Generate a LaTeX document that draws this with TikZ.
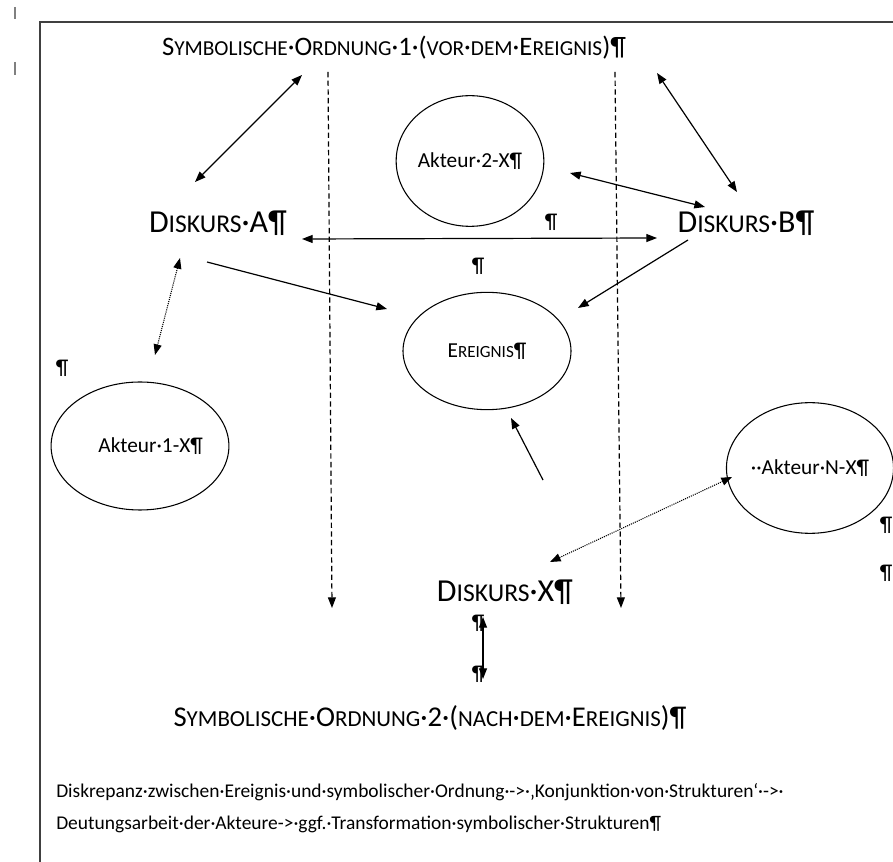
\documentclass[tikz,border=0pt]{standalone}
\usepackage{fontspec}
\setmainfont{Carlito}
\usepackage{graphicx}
\usetikzlibrary{arrows.meta,calc,shapes.geometric}

\newcommand{\kap}[1]{\scalebox{0.8}{#1}}

\tikzset{
  tip/.style={line width=0.9pt},
  pfeil/.style={tip, -{Triangle[length=8pt,width=6pt]}},
  doppel/.style={tip, {Triangle[length=8pt,width=6pt]}-{Triangle[length=8pt,width=6pt]}},
  punkte/.style={line width=0.8pt, dash pattern=on 0.8pt off 0.8pt, {Triangle[length=8pt,width=6pt]}-{Triangle[length=8pt,width=6pt]}},
  strich/.style={line width=0.9pt, dash pattern=on 4pt off 2.5pt, -{Triangle[length=8pt,width=6pt]}},
  kreis/.style={draw, ellipse, line width=0.8pt, inner sep=0pt, font=\fontsize{16}{18}\selectfont},
  titel/.style={inner sep=0.75pt, font=\fontsize{20}{24}\selectfont},
  diskurs/.style={inner sep=0.75pt, font=\fontsize{24}{28}\selectfont},
  absatz/.style={inner sep=0.75pt, font=\fontsize{16}{18}\selectfont}
}

\begin{document}
\begin{tikzpicture}[x=0.75pt,y=0.75pt,yscale=-1,xscale=1]
    \useasboundingbox (0,0) rectangle (893,862);

    %Straight Lines: page marks and frame
    \draw [color=gray, line width=1pt] (15,7) -- (15,19) (15,62) -- (15,75);
    \draw [color={rgb,255:red,64;green,64;blue,64}, line width=1pt] (40,862) -- (40,22) -- (893,22);

    % Text Node
    \node [titel] (sym1) at (394,48) {S\kap{YMBOLISCHE}·O\kap{RDNUNG}·1·(\kap{VOR}·\kap{DEM}·E\kap{REIGNIS})¶};
    % Text Node
    \node [diskurs] (diskA) at (218,223) {D\kap{ISKURS}·A¶};
    % Text Node
    \node [diskurs] (diskB) at (746,223) {D\kap{ISKURS}·B¶};
    % Text Node
    \node [diskurs] (diskX) at (505,592) {D\kap{ISKURS}·X¶};
    % Text Node
    \node [titel, font=\fontsize{21.5}{24}\selectfont] (sym2) at (430,718) {S\kap{YMBOLISCHE}·O\kap{RDNUNG}·2·(\kap{NACH}·\kap{DEM}·E\kap{REIGNIS})¶};

    %Shape: Ellipse
    \node [kreis, minimum width=108pt, minimum height=98pt] (akt2) at (470,161) {Akteur·2-X¶};
    %Shape: Ellipse
    \node [kreis, minimum width=126pt, minimum height=88pt] (ereig) at (487,351) {E\kap{REIGNIS}¶};
    %Shape: Ellipse
    \node [kreis, minimum width=109pt, minimum height=96pt] (akt1) at (140,446) {\hspace{16pt}Akteur·1-X¶};
    %Shape: Ellipse
    \node [kreis, minimum width=109pt, minimum height=98pt] (aktN) at (810,468) {··Akteur·N-X¶};

    % stray paragraph marks
    \node [absatz] (pA) at (551,222) {¶};
    \node [absatz] (pB) at (478,266) {¶};
    \node [absatz] (pC) at (62,368) {¶};
    \node [absatz] (pD) at (886,525) {¶};
    \node [absatz] (pE) at (886,573) {¶};
    \node [absatz] (par1) at (478,623) {¶};
    \node [absatz] (par2) at (478,674) {¶};

    % Text Node
    \node [anchor=north west, inner sep=0.75pt, align=left, font=\fontsize{14.6}{24}\selectfont] (notiz) at (55,782)
      {Diskrepanz·zwischen·Ereignis·und·symbolischer·Ordnung·->·‚Konjunktion·von·Strukturen‘·->·\\
       Deutungsarbeit·der·Akteure->·ggf.·Transformation·symbolischer·Strukturen¶};

    %Straight Lines: dashed, order 1 to order 2
    \draw [strich] ($(sym1)+(-66,24)$) -- ($(sym2)+(-98,-110)$);
    \draw [strich] ($(sym1)+(221,24)$) -- ($(sym2)+(191,-110)$);

    %Straight Lines
    \draw [doppel] ($(sym1)+(-92,27)$) -- ($(diskA)+(-23,-41)$);
    \draw [doppel] ($(sym1)+(263,25)$) -- ($(diskB)+(-9,-31)$);
    \draw [doppel] ($(akt2)+(100,12)$) -- ($(diskB)+(-41,-16)$);
    \draw [doppel] ($(diskA)+(84,16)$) -- ($(diskB)+(-89,15)$);
    \draw [pfeil] ($(diskA)+(-11,39)$) -- ($(ereig)+(-100,-42)$);
    \draw [pfeil] ($(diskB)+(-58,17)$) -- ($(ereig)+(91,-43)$);
    \draw [pfeil] ($(diskX)+(38,-112)$) -- ($(ereig)+(24,67)$);
    \draw [punkte] ($(diskA)+(-38,35)$) -- ($(akt1)+(15,-91)$);
    \draw [punkte] ($(diskX)+(45,-30)$) -- ($(aktN)+(-78,9)$);
    \draw [doppel] ($(par1)+(5,-6)$) -- ($(par2)+(5,5)$);

\end{tikzpicture}
\end{document}
